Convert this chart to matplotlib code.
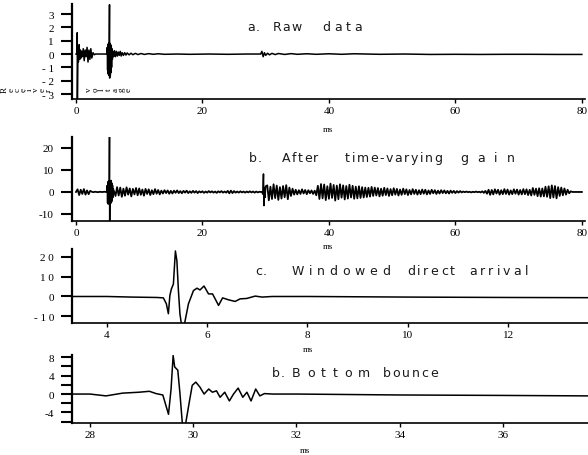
import numpy as np
import matplotlib.pyplot as plt

# ---- panel a: raw data (ms, volts)
a_t = [0, 0.15, 0.2, 0.22, 0.3, 0.38, 0.5, 0.6, 0.7, 0.8, 0.9, 1.0, 1.15, 1.3, 1.45, 1.6, 1.75, 1.9, 2.05, 2.2,
       2.35, 2.5, 2.7, 2.9, 3.1, 4.9, 4.95, 5.0, 5.05, 5.1, 5.15, 5.2, 5.25, 5.3, 5.33, 5.38, 5.43, 5.48, 5.53, 5.58,
       5.63, 5.68, 5.75, 5.85, 5.95, 6.1, 6.25, 6.4, 6.55, 6.7, 6.85, 7.0, 7.15, 7.3, 7.5, 7.7, 7.9, 8.1, 8.4, 8.7,
       9.0, 9.4, 9.8, 10.3, 10.8, 11.5, 12.2, 13, 14, 16, 18, 21, 24, 27, 29.2, 29.4, 29.6, 29.8, 30.0, 30.3,
       30.6, 31, 31.5, 32, 33, 34, 35, 36.5, 38, 40, 42, 44, 46, 48, 52, 56, 60, 64, 68, 72, 76, 80]
a_v = [0, 0, 1.6, -3.6, 0.4, -0.6, 0.7, -0.4, 0.3, -0.3, 0.2, -0.2, 0.4, -0.5, 0.3, -0.2, 0.5, -0.6, 0.3, -0.4,
       0.4, -0.3, 0.1, -0.05, 0, 0, 0.5, -1.2, 0.7, -1.5, 0.8, -1.6, 0.6, 3.7, -1.8, 0.8, -1.6, 0.7, -1.4, 0.6,
       -1.0, 0.4, -0.4, 0.2, -0.2, 0.25, -0.2, 0.2, -0.15, 0.15, -0.1, 0.2, -0.15, 0.1, -0.1, 0.1, -0.08, 0.08, -0.06, 0.06,
       -0.05, 0.05, -0.04, 0.04, -0.03, 0.03, -0.02, 0.02, -0.02, 0, -0.02, 0, -0.02, 0, 0, 0.2, -0.2, 0.1, -0.1, 0.06,
       -0.06, 0.05, -0.04, 0.04, -0.03, 0.03, -0.02, 0.02, -0.02, 0.02, -0.02, 0.02, 0, -0.02, 0, -0.03, -0.02, -0.03, -0.02, -0.02, -0.03, -0.03]

# ---- panel b: after time-varying gain, 0.25 ms samples
b_step = 0.25
b_v = [
    0, 1.2, -1.4, 1.0, -0.9, 1.3, -1.2, 0.7, -1.0, 0.5, 0.1, -0.1, 0.1, 0, -0.1, 0.1, 0, 0, 0.1, 0,
    0, 0, 0, 0, 0.4, -1.8, 2.2, -1.6, 2.0, -2.2, 1.5, -1.7, 2.1, -1.2, 1.6, -2.0, 1.4, -1.1, 1.8, -1.5,
    1.6, -1.3, 1.1, -1.7, 1.4, -0.9, 1.2, -1.4, 0.8, -1.0, 1.3, -0.8, 0.9, -1.1, 0.6, -0.7, 0.8, -0.5, 0.7, -0.8,
    0.5, -0.7, 0.6, -0.4, 0.7, -0.5, 0.4, -0.6, 0.5, -0.3, 0.6, -0.5, 0.3, -0.4, 0.5, -0.3, 0.4, -0.5, 0.3, -0.2,
    0.3, -0.4, 0.2, -0.3, 0.4, -0.2, 0.3, -0.3, 0.2, -0.4, 0.3, -0.2, 0.4, -0.3, 0.2, -0.3, 0.5, -0.6, 0.6, -0.5,
    0.4, -0.3, 0.2, -0.3, 0.3, -0.2, 0.2, -0.3, 0.2, -0.2, 0.3, -0.2, 0.2, -0.3, 0.2, -0.2, 0.1, 0, 0, 0,
    2.5, 3.0, -3.8, 2.4, -3.2, 3.5, -2.8, 2.9, -3.6, 2.2, -3.0, 2.7, -2.4, 3.1, -3.3, 2.0, -1.8, 1.5, -1.2, 1.0,
    -1.1, 0.8, -0.9, 1.2, -0.7, 0.9, -1.0, 0.8, -0.6, 0.7, -0.9, 0.6, -1.5, 2.8, -3.2, 3.6, -2.9, 3.4, -3.7, 2.6,
    -3.1, 3.8, -2.7, 3.2, -3.9, 2.9, -3.3, 3.5, -2.6, 3.0, -3.4, 2.7, -3.0, 3.3, -2.5, 2.8, -3.1, 2.4, -2.9, 2.6,
    -2.7, 2.2, -2.5, 2.0, -2.3, 1.9, -2.1, 2.3, -1.8, 2.0, -1.6, 1.8, -2.0, 1.5, -1.7, 1.9, -1.4, 1.6, -1.8, 1.3,
    -1.5, 1.7, -1.2, 1.4, -1.6, 1.1, -1.3, 1.5, -1.0, 1.2, -1.4, 0.9, -1.1, 1.3, -0.9, 1.0, -1.2, 0.8, -1.0, 1.1,
    -0.8, 1.0, -1.1, 0.7, -0.9, 1.0, -0.6, 0.8, -0.9, 0.6, -0.7, 0.8, -0.5, 0.7, -0.6, 0.5, -0.7, 0.6, -0.4, 0.5,
    -0.5, 0.4, -0.3, 0.4, -0.2, 0.2, -0.1, 0.2, -0.1, 0.1, -0.2, 0.1, -0.1, 0.2, -0.1, 0.1, -0.2, 0.3, -0.4, 0.5,
    -0.8, 1.0, -1.3, 0.9, -1.1, 1.2, -0.7, 1.0, -1.2, 0.8, -1.0, 1.3, -0.9, 1.1, -1.2, 0.7, -1.0, 1.2, -0.8, 1.1,
    -1.2, 0.9, -1.1, 1.3, -1.0, 1.2, -1.4, 1.0, -1.6, 1.8, -1.3, 1.5, -1.9, 1.7, -2.1, 1.6, -2.0, 2.4, -2.2, 2.6,
    -2.8, 3.0, -2.5, 2.7, -2.9, 2.2, -1.8, 2.0, -1.5, 1.6, -1.2, 1.0, -0.6, 0.3, 0, 0, 0, 0, 0, 0,
    0]
# finer detail of the two arrivals in panel b
b_direct_t = [4.9, 4.95, 5.0, 5.05, 5.1, 5.15, 5.2, 5.25, 5.3, 5.33, 5.38, 5.43, 5.48, 5.53, 5.58, 5.63, 5.68,
              5.73, 5.78, 5.83, 5.9, 6.0]
b_direct_v = [0, 3, -5, 4.5, -5.5, 5, -4, 3, 26, -14, 5, -5.5, 4.8, -5, 5.2, -4.5, 4, -3.5, 3, -2.5, 1.5, 0]
b_bounce_t = [29.4, 29.55, 29.65, 29.72, 29.8, 29.9, 30.0]
b_bounce_v = [0, -1, 8.2, -6.2, 2, -2.5, 2.5]

# ---- panel c: windowed direct arrival
c_t = [3.3, 4.0, 4.5, 5.0, 5.13, 5.19, 5.23, 5.26, 5.29, 5.33, 5.37, 5.40, 5.43, 5.46, 5.49, 5.55, 5.63, 5.73,
       5.80, 5.86, 5.94, 6.03, 6.11, 6.23, 6.31, 6.43, 6.56, 6.66, 6.79, 6.96, 7.1, 7.3, 8, 10, 12, 13.6]
c_v = [0, 0, -0.3, -0.5, -0.7, -3.7, -8.7, 0.5, 3.8, 6.3, 23, 18, 3, -8.7, -14, -14, -3.7, 3,
       4.2, 3.3, 5.3, 1.3, 1.3, -4.5, -0.7, -1.7, -2.5, -1.2, -1, 0.2, -0.3, 0, 0, -0.3, -0.5, -0.6]

# ---- panel d: bottom bounce
d_t = [27.65, 28.0, 28.31, 28.63, 28.95, 29.15, 29.28, 29.41, 29.52, 29.57, 29.61, 29.64, 29.70, 29.74, 29.79,
       29.85, 29.91, 29.98, 30.05, 30.13, 30.21, 30.30, 30.37, 30.45, 30.52, 30.61, 30.70, 30.78, 30.87, 30.96,
       31.04, 31.12, 31.21, 31.29, 31.38, 31.54, 32, 34, 36, 37.65]
d_v = [0, 0, -0.4, 0.2, 0.4, 0.6, 0.1, -0.2, -4.4, 1.1, 8.4, 5.9, 5.2, 0.4, -6.6, -6.6, -2.6, 1.9, 2.6, 1.5,
       0, 1.1, 0.4, 0.7, -0.7, 0.4, -1.5, 0, 1.3, -0.7, 0.4, -1.5, 1.1, -0.4, 0.1, 0, 0, -0.2, -0.3, -0.4]

titles = [["a.", "Raw", "data"],
          ["b.", "After", "time-varying", "gain"],
          ["c.", "Windowed", "direct", "arrival"],
          ["b.", "Bottom", "bounce"]]
a_yticks = [3, 2, 1, 0, -1, -2, -3]
a_ylabels = ["3", "2", "1", "0", "- 1", "- 2", "- 3"]
b_yticks = [20, 10, 0, -10]
b_ylabels = ["20", "10", "0", "-10"]
c_yticks = [20, 10, 0, -10]
c_ylabels = ["2 0", "1 0", "0", "- 1 0"]
d_yticks = [8, 4, 0, -4]
d_ylabels = ["8", "4", "0", "-4"]
d_minor = [6, 2, -2, -6]
ab_xticks = [0, 20, 40, 60, 80]
c_xticks = [4, 6, 8, 10, 12]
d_xticks = [28, 30, 32, 34, 36]
ylabel_a = "Receiver voltage"

W, H = 588, 456
SERIF = "Liberation Serif"
SANS = "DejaVu Sans"

# where each title word starts and ends (px) and the title baseline
title_spans = [[(247, 257), (273, 301), (322, 362)],
               [(249, 260), (282, 318), (345, 442), (460, 515)],
               [(255, 263), (292, 390), (407, 455), (469, 528)],
               [(272, 282), (292, 370), (383, 438)]]
title_base = [31, 162, 275, 377]


def box(left, top, right, bottom):
    return [left / W, 1 - bottom / H, (right - left) / W, (bottom - top) / H]


def style(ax, xlim, ylim, xticks, yticks, ylabels):
    ax.set_xlim(*xlim)
    ax.set_ylim(*ylim)
    for s in ["top", "right"]:
        ax.spines[s].set_visible(False)
    ax.spines["left"].set_linewidth(1.6)
    ax.spines["bottom"].set_linewidth(1.2)
    ax.set_xticks(xticks)
    ax.set_xticklabels([str(x) for x in xticks], fontfamily=SERIF, fontsize=8)
    ax.set_yticks(yticks)
    ax.set_yticklabels(ylabels, fontfamily=SERIF, fontsize=8)
    ax.tick_params(axis="y", direction="out", length=8, width=1.5, pad=5)
    ax.tick_params(axis="x", direction="out", length=3, width=1, pad=2)
    ax.patch.set_alpha(0)


def spaced_word(fig, renderer, word, x0, x1, base):
    # letters spread evenly over the span the word takes in the figure
    letters = []
    for ch in word:
        t = fig.text(0, 0, ch, fontsize=9, fontfamily=SANS, color="#1a1a1a", ha="left", va="baseline")
        letters.append(t)
    widths = [t.get_window_extent(renderer).width for t in letters]
    gap = (x1 - x0 - sum(widths)) / max(len(word) - 1, 1)
    gap = max(gap, 0.8)
    x = x0
    for t, w in zip(letters, widths):
        t.set_position((x / W, 1 - base / H))
        x += w + gap


def dibujar():
    fig = plt.figure(figsize=(W / 100, H / 100), dpi=100)
    renderer = fig.canvas.get_renderer()
    kw = dict(color="black", lw=1.1)

    ax = fig.add_axes(box(72, 5, 585, 100))
    ax.plot(a_t, a_v, **kw)
    style(ax, (-0.63, 80.5), (-3.37, 3.75), ab_xticks, a_yticks, a_ylabels)

    bx = fig.add_axes(box(72, 138, 585, 222))
    b_t = np.arange(len(b_v)) * b_step
    bx.plot(b_t, b_v, color="black", lw=1.3)
    bx.plot(b_direct_t, b_direct_v, **kw)
    bx.plot(b_bounce_t, b_bounce_v, **kw)
    style(bx, (-0.63, 80.5), (-13.2, 25), ab_xticks, b_yticks, b_ylabels)

    cx = fig.add_axes(box(72, 250, 588, 324))
    cx.plot(c_t, c_v, **kw)
    style(cx, (3.31, 13.59), (-13.4, 24), c_xticks, c_yticks, c_ylabels)

    dx = fig.add_axes(box(72, 356, 588, 424))
    dx.plot(d_t, d_v, **kw)
    style(dx, (27.65, 37.65), (-6.3, 8.5), d_xticks, d_yticks, d_ylabels)
    dx.set_yticks(d_minor, minor=True)
    dx.tick_params(axis="y", which="minor", direction="out", length=8, width=1.5)

    # titles, letter-spaced
    for words, spans, base in zip(titles, title_spans, title_base):
        for word, (x0, x1) in zip(words, spans):
            spaced_word(fig, renderer, word, x0, x1, base)

    # ms labels
    for x, y in [(328, 130), (328, 247), (308, 350), (305, 451)]:
        fig.text(x / W, 1 - y / H, "ms", fontsize=6.5, fontfamily=SERIF, ha="center", va="center")

    # y label of panel a, letters standing on their side
    word1, word2 = ylabel_a.split(" ")
    for i, ch in enumerate(word1):
        fig.text((5 + 6.2 * i) / W, 1 - 90 / H, ch, fontsize=6.5, fontfamily=SERIF, rotation=90,
                 ha="center", va="center")
    for i, ch in enumerate(word2):
        fig.text((89 + 6.6 * i) / W, 1 - 90 / H, ch, fontsize=6.5, fontfamily=SERIF, rotation=90,
                 ha="center", va="center")

    fig.savefig("out.png", dpi=100)


def main():
    dibujar()


main()
